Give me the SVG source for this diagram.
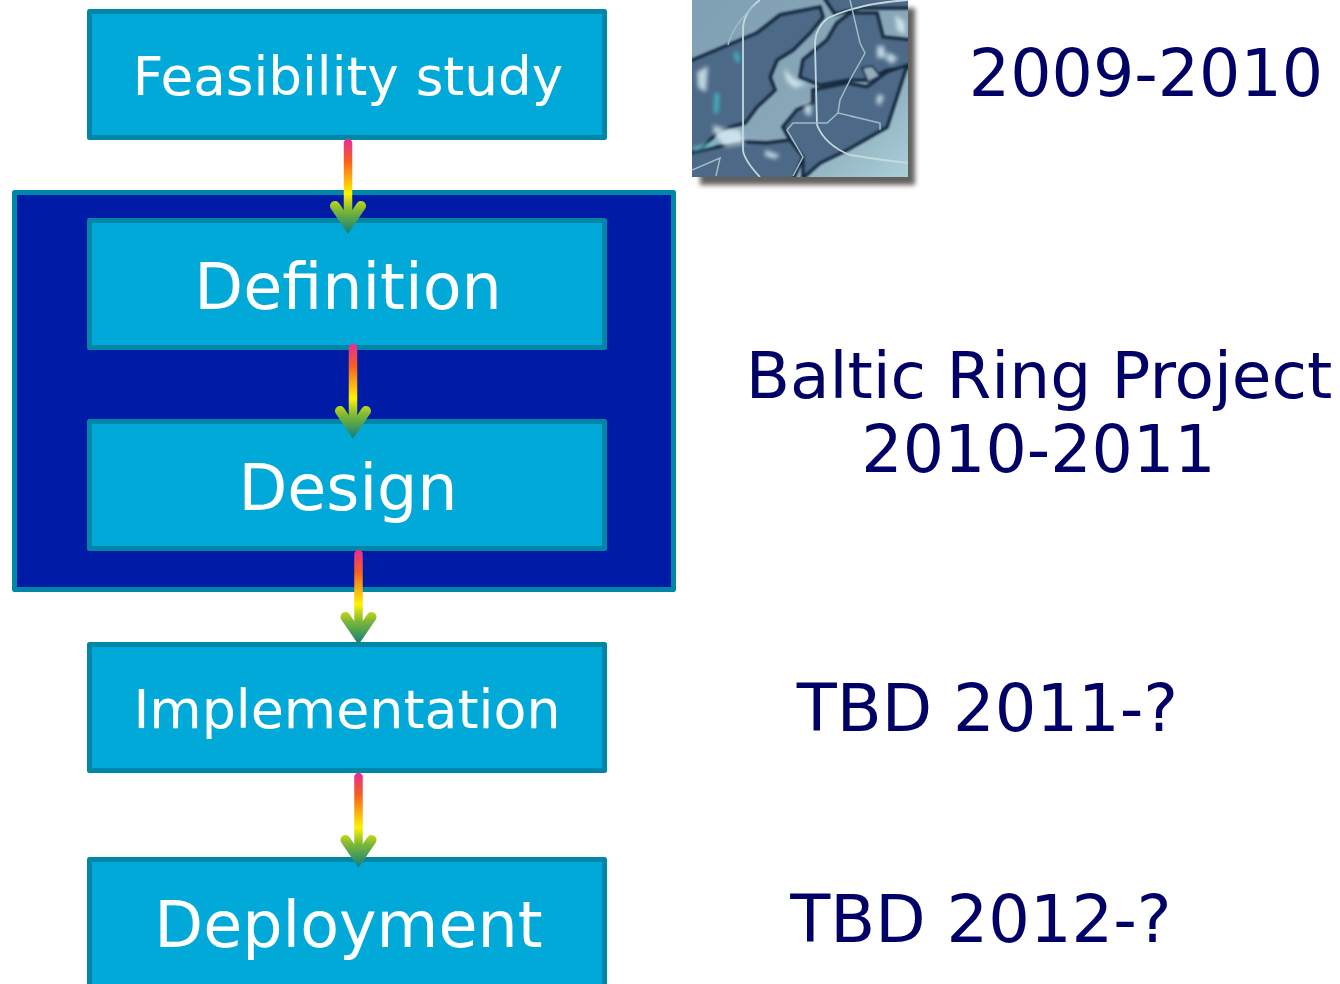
<svg xmlns="http://www.w3.org/2000/svg" width="1340" height="984" viewBox="0 0 1340 984">
<style>
.box{fill:#00a9d8;stroke:#0087a8;stroke-width:5;stroke-linejoin:round}
.frame{fill:#001ca6;stroke:#0087a8;stroke-width:5;stroke-linejoin:round}
.lbl{font-family:"DejaVu Sans",Verdana,sans-serif;fill:#fff;text-anchor:middle}
.side{font-family:"DejaVu Sans",Verdana,sans-serif;fill:#000066;text-anchor:middle}
.shaft{fill:none;stroke-width:8.500;stroke-linecap:round}
.head{fill:none;stroke-width:10;stroke-linecap:round;stroke-linejoin:miter}
.land{fill:#4d6988;stroke:#16293f;stroke-width:3.500}
.bord{fill:none;stroke:#c4d9df;stroke-width:1.800}
.line{fill:none;stroke:#9fbcc6;stroke-width:1.500}
.glow{fill:#dcf0f5;opacity:.8}
</style>
<defs>
<linearGradient id="sea" x1="0" y1="0" x2="1" y2="1"><stop offset="0" stop-color="#7f9fb3"/><stop offset=".65" stop-color="#8aa8b8"/><stop offset="1" stop-color="#a9d0d8"/></linearGradient>
<linearGradient id="g1" gradientUnits="userSpaceOnUse" x1="0" y1="141" x2="0" y2="233"><stop offset="0" stop-color="#ea2f8c"/><stop offset=".22" stop-color="#f6601f"/><stop offset=".57" stop-color="#fff200"/><stop offset=".75" stop-color="#7fb835"/><stop offset="1" stop-color="#0f8078"/></linearGradient>
<linearGradient id="g2" gradientUnits="userSpaceOnUse" x1="0" y1="346" x2="0" y2="438"><stop offset="0" stop-color="#ea2f8c"/><stop offset=".22" stop-color="#f6601f"/><stop offset=".57" stop-color="#fff200"/><stop offset=".75" stop-color="#7fb835"/><stop offset="1" stop-color="#0f8078"/></linearGradient>
<linearGradient id="g3" gradientUnits="userSpaceOnUse" x1="0" y1="552" x2="0" y2="644"><stop offset="0" stop-color="#ea2f8c"/><stop offset=".22" stop-color="#f6601f"/><stop offset=".57" stop-color="#fff200"/><stop offset=".75" stop-color="#7fb835"/><stop offset="1" stop-color="#0f8078"/></linearGradient>
<linearGradient id="g4" gradientUnits="userSpaceOnUse" x1="0" y1="775" x2="0" y2="867"><stop offset="0" stop-color="#ea2f8c"/><stop offset=".22" stop-color="#f6601f"/><stop offset=".57" stop-color="#fff200"/><stop offset=".75" stop-color="#7fb835"/><stop offset="1" stop-color="#0f8078"/></linearGradient>
<filter id="soft" x="-10%" y="-10%" width="120%" height="120%"><feGaussianBlur stdDeviation="1"/></filter>
<filter id="glowb" x="-20%" y="-20%" width="140%" height="140%"><feGaussianBlur stdDeviation="2"/></filter>
<filter id="shadow" x="-10%" y="-10%" width="120%" height="120%"><feGaussianBlur stdDeviation="2.500"/></filter>
<clipPath id="mapclip"><rect x="692" y="0" width="216" height="177"/></clipPath>
</defs>
<g id="frame"><rect class="frame" x="14.500" y="192.500" width="659" height="397"/></g>
<g id="map">
<rect x="700" y="8" width="215" height="177" fill="#4a4440" opacity=".85" filter="url(#shadow)"/>
<g clip-path="url(#mapclip)">
<rect x="692" y="0" width="216" height="177" fill="url(#sea)"/>
<g filter="url(#soft)">
<path class="land" d="M688 62 L733 43 L757 33 L780 15 L820 7 L823 17 L810 33 L793 50 L777 60 L770 77 L775 90 L757 107 L745 123 L730 127 L717 133 L700 150 L688 152Z"/>
<path class="land" d="M688 154 L717 147 L743 142 L767 143 L790 140 L803 157 L793 180 L688 180Z"/>
<path class="land" d="M800 77 L803 60 L827 40 L837 23 L850 13 L877 13 L883 37 L912 40 L912 67 L887 70 L867 80 L847 80 L820 85Z"/>
<path class="land" d="M823 -4 L912 -4 L912 8 L860 8 L835 14Z"/>
<path class="land" d="M813 90 L847 83 L867 87 L887 72 L907 65 L900 87 L887 127 L847 150 L820 163 L803 178 L803 157 L790 140 L783 127 L797 110 L813 103Z"/>
<path fill="#93adbd" stroke="#1c3450" stroke-width="2" d="M862 68 L872 66 L880 76 L868 82Z"/>
</g>
<g filter="url(#glowb)">
<path class="glow" d="M785 67 Q790 80 807 84 L795 88 Q783 82 785 67Z"/>
<path class="glow" d="M697 72 L708 66 L706 92 L698 88Z"/>
<path class="glow" d="M713 125 L722 128 L740 130 L745 144 L725 147 L714 134Z"/>
<path class="glow" d="M877 46 L884 46 L886 58 L877 58Z"/>
<path class="glow" d="M888 52 L898 58 L892 64 L886 60Z"/>
<path class="glow" d="M895 15 L905 22 L905 35 L897 30Z"/>
<path class="glow" d="M804 104 L812 104 L811 116 L805 114Z"/>
<path class="glow" d="M878 94 L884 96 L880 106 L876 102Z"/>
<path class="glow" d="M765 150 L780 155 L775 159 L765 156Z"/>
<path d="M717 93 L716 113" stroke="#3fc0c8" stroke-width="4" fill="none"/>
<path d="M736 52 L738 62" stroke="#3fc0c8" stroke-width="4" fill="none"/>
<path d="M692 150 L715 143" stroke="#6fd0d8" stroke-width="3" fill="none"/>
</g>
<path class="bord" d="M760 0 Q743 12 743 30 L743 150 Q744 160 760 177"/>
<path class="bord" d="M908 0 Q860 3 828 18 Q815 28 815 45 L817 125 Q825 145 850 155 Q880 160 908 163"/>
<path class="line" d="M728 45 Q733 25 755 5"/>
<path class="line" d="M850 0 L860 43 L865 53 L850 80 L840 100 L838 113 L880 123 L880 130 M838 113 L827 123 L793 123 L787 130 L803 157 L793 176 M692 170 L720 158 L716 176"/>
</g>
</g>
<g id="node-feasibility"><rect class="box" x="89.500" y="11.500" width="515" height="126"/><text class="lbl" x="348" y="95" font-size="53.200">Feasibility study</text></g>
<g id="node-definition"><rect class="box" x="89.500" y="220.500" width="515" height="127"/><text class="lbl" x="348" y="309" font-size="63.500">Definition</text></g>
<g id="node-design"><rect class="box" x="89.500" y="421.500" width="515" height="127"/><text class="lbl" x="348" y="510" font-size="63.500">Design</text></g>
<g id="node-implementation"><rect class="box" x="89.500" y="644.500" width="515" height="126"/><text class="lbl" x="347" y="728" font-size="53.800">Implementation</text></g>
<g id="node-deployment"><rect class="box" x="89.500" y="859.500" width="515" height="130"/><text class="lbl" x="348.500" y="947" font-size="63.500">Deployment</text></g>
<g id="connectors">
<g stroke="url(#g1)"><path class="shaft" d="M348 143 V222"/><path class="head" d="M335 206 L348 225 L361 206"/></g>
<g stroke="url(#g2)"><path class="shaft" d="M353 348 V427"/><path class="head" d="M340 411 L353 430 L366 411"/></g>
<g stroke="url(#g3)"><path class="shaft" d="M358.500 554 V633"/><path class="head" d="M345.500 617 L358.500 636 L371.500 617"/></g>
<g stroke="url(#g4)"><path class="shaft" d="M358.500 777 V856"/><path class="head" d="M345.500 840 L358.500 859 L371.500 840"/></g>
</g>
<g id="labels">
<text class="side" x="1146" y="96" font-size="65">2009-2010</text>
<text class="side" x="1039" y="398" font-size="64.500">Baltic Ring Project</text>
<text class="side" x="1038.500" y="472" font-size="65">2010-2011</text>
<text class="side" x="987.500" y="731" font-size="65.500">TBD 2011-?</text>
<text class="side" x="981" y="942" font-size="65.500">TBD 2012-?</text>
</g>
</svg>
